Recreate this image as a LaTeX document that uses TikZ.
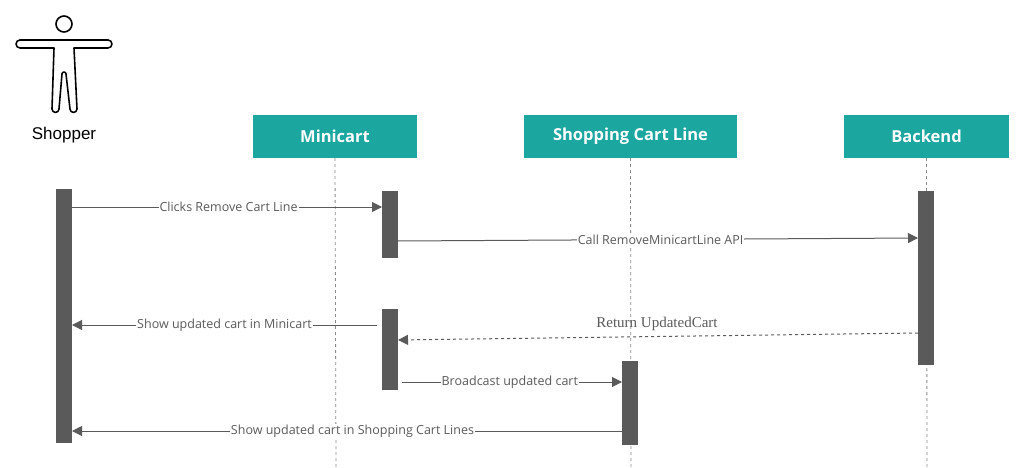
\documentclass[tikz,border=0pt]{standalone}
\usepackage{fontspec}
\setmainfont{Open Sans}
\newfontfamily\arialf{Liberation Sans}
\newfontfamily\serf{Liberation Serif}
\usetikzlibrary{arrows.meta}
\definecolor{teal1}{HTML}{1BA6A0}
\definecolor{gr}{HTML}{5A5A5A}
\begin{document}
\begin{tikzpicture}[x=1pt,y=-1pt,
 head/.style={fill=teal1,draw=none,text=white,font=\bfseries\fontsize{16.5}{20}\selectfont,inner sep=0},
 life/.style={draw=gr!70,dashed,line width=0.8pt},
 bar/.style={fill=gr,draw=none},
 msg/.style={draw=gr,line width=1pt,-{Triangle[length=10pt,width=10pt]}},
 lbl/.style={fill=white,inner sep=1pt,text=gr,font=\fontsize{12.5}{14}\selectfont}]
\useasboundingbox (0,0) rectangle (1026,468);
% actor
\draw[line width=1.6pt] (64,24) circle (8);
\draw[line width=1.6pt,line join=round] (54,48) -- (20,48) arc[start angle=90,end angle=270,radius=4] -- (108,40) arc[start angle=-90,end angle=90,radius=4] -- (74,48) -- (77,109) arc[start angle=0,end angle=180,radius=3.5] -- (66,74) arc[start angle=0,end angle=-180,radius=2] -- (59,109) arc[start angle=0,end angle=180,radius=3.5] -- cycle;
\node[font=\arialf\fontsize{17}{20}\selectfont] (shop) at (64,135) {Shopper};
% headers
\node[head,minimum width=164pt,minimum height=43pt] (mc) at (335,136.5) {Minicart};
\node[head,minimum width=213pt,minimum height=43pt] (scl) at (630.5,136.5) {Shopping Cart Line};
\node[head,minimum width=165pt,minimum height=43pt] (be) at (926.5,136.5) {Backend};
\coordinate (mce) at (336,468); \coordinate (scle) at (631,468); \coordinate (bee) at (927,468);
\draw[life] (mc.south) -- (mce);
\draw[life] (scl.south) -- (scle);
\draw[life] (be.south) -- (bee);
% bars
\node[bar,minimum width=16pt,minimum height=254pt,inner sep=0] (sb) at (64,316) {};
\node[bar,minimum width=16pt,minimum height=67pt,inner sep=0] (m1) at (390,224.5) {};
\node[bar,minimum width=16pt,minimum height=81pt,inner sep=0] (m2) at (390,349.5) {};
\node[bar,minimum width=16pt,minimum height=174pt,inner sep=0] (bb) at (926,278) {};
\node[bar,minimum width=16pt,minimum height=84pt,inner sep=0] (sc) at (630,403) {};
% messages
\coordinate (a1) at (72,207); \coordinate (a2) at (382,207);
\draw[msg] (a1) -- node[lbl,pos=0.505]{Clicks Remove Cart Line} (a2);
\coordinate (b1) at (398,241); \coordinate (b2) at (918,238);
\draw[msg] (b1) -- node[lbl,pos=0.505]{Call RemoveMinicartLine API} (b2);
\coordinate (c1) at (377,325); \coordinate (c2) at (72,325);
\draw[msg] (c1) -- node[lbl,pos=0.5]{Show updated cart in Minicart} (c2);
\coordinate (d1) at (918,333); \coordinate (d2) at (398,340);
\draw[msg,dashed] (d1) -- (d2);
\node[text=gr,font=\serf\fontsize{15}{17}\selectfont] (dl) at (657,324) {Return UpdatedCart};
\coordinate (e1) at (402,382); \coordinate (e2) at (622,382);
\draw[msg] (e1) -- node[lbl,pos=0.49]{Broadcast updated cart} (e2);
\coordinate (f1) at (622,431); \coordinate (f2) at (72,431);
\draw[msg] (f1) -- node[lbl,pos=0.49]{Show updated cart in Shopping Cart Lines} (f2);
\end{tikzpicture}
\end{document}
